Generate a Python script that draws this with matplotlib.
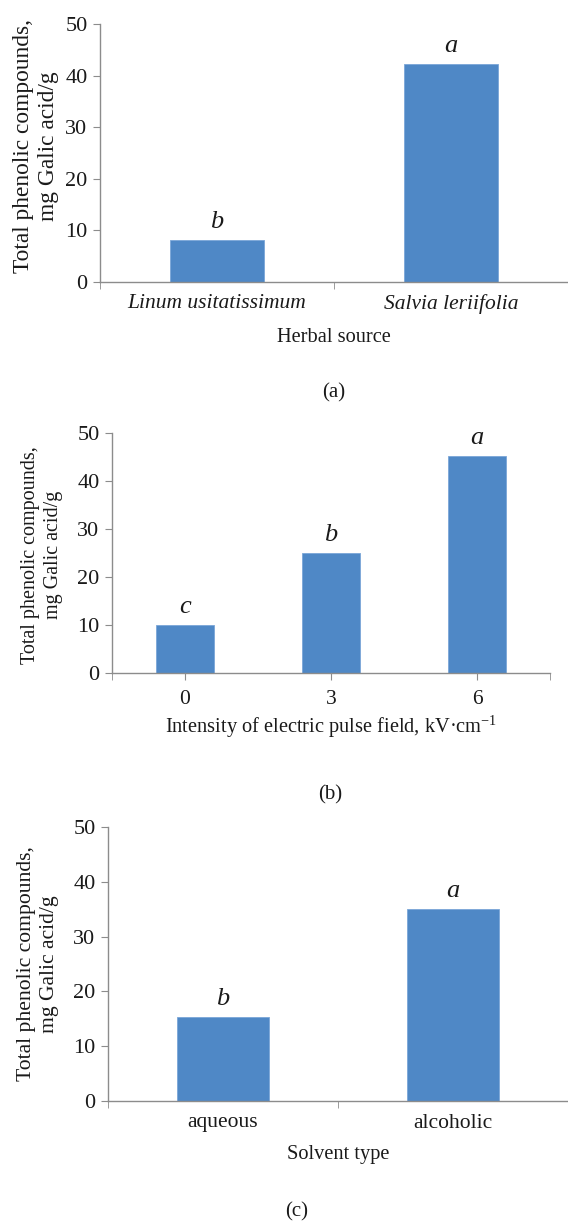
import matplotlib
matplotlib.use("Agg")
import matplotlib.pyplot as plt
from matplotlib.ticker import FixedLocator

plt.rcParams['font.family'] = ['Liberation Serif', 'DejaVu Serif']
plt.rcParams['mathtext.fontset'] = 'custom'
plt.rcParams['mathtext.rm'] = 'Liberation Serif'

# ---- data ----
herbs = ['Linum usitatissimum', 'Salvia leriifolia']
herb_vals = [8.2, 42.2]
herb_letters = ['b', 'a']

fields = ['0', '3', '6']
field_vals = [10.1, 25.1, 45.3]
field_letters = ['c', 'b', 'a']

solvents = ['aqueous', 'alcoholic']
solvent_vals = [15.3, 35.1]
solvent_letters = ['b', 'a']

ylabel = 'Total phenolic compounds,\nmg Galic acid/g'
yticks = [0, 10, 20, 30, 40, 50]

W, H = 568, 1223
BAR = '#4f88c6'
AXC = '#8c8c8c'
TXT = '#1a1a1a'

fig = plt.figure(figsize=(W / 100, H / 100), dpi=100)


def px_axes(left, right, top, bottom):
    # pixel box -> figure fraction
    return fig.add_axes([left / W, 1 - bottom / H, (right - left) / W, (bottom - top) / H])


def panel(box, cats, vals, letters, xlabel, tag, tag_xy, boundary_ticks,
          italic_cats=False, ylab_fs=16, ylab_xy=(35, 150), xlab_y=337):
    left, right, top, bottom = box
    ax = px_axes(left, right, top, bottom)
    x = list(range(len(cats)))
    ax.bar(x, vals, width=0.4, color=BAR, edgecolor='#7aa6d8', linewidth=0.6, zorder=2)
    ax.set_xlim(-0.5, len(cats) - 0.5)
    ax.set_ylim(0, 50)
    ax.set_yticks(yticks)
    ax.tick_params(axis='y', direction='out', length=5, color=AXC, labelsize=16,
                   labelcolor=TXT, pad=4)
    for s in ['top', 'right']:
        ax.spines[s].set_visible(False)
    for s in ['left', 'bottom']:
        ax.spines[s].set_color(AXC)
        ax.spines[s].set_linewidth(1.0)
    ax.set_xticks(x)
    ax.set_xticklabels(cats, fontsize=15.5, color=TXT,
                       style='italic' if italic_cats else 'normal')
    if boundary_ticks:
        ax.xaxis.set_minor_locator(FixedLocator([i - 0.5 for i in range(len(cats) + 1)]))
        ax.tick_params(axis='x', which='major', length=0, pad=9)
    else:
        ax.xaxis.set_minor_locator(FixedLocator([-0.5, len(cats) - 0.5]))
        ax.tick_params(axis='x', which='major', length=5, color=AXC, pad=7)
    ax.tick_params(axis='x', which='minor', length=5, color=AXC)
    for xi, v, l in zip(x, vals, letters):
        ax.annotate(l, (xi, v), xytext=(0, 5), textcoords='offset points',
                    ha='center', va='bottom', fontsize=19, style='italic', color=TXT)
    fig.text(ylab_xy[0] / W, 1 - ylab_xy[1] / H, ylabel, rotation=90, ha='center',
             va='center', multialignment='center', fontsize=ylab_fs, color=TXT,
             linespacing=1.25)
    fig.text(((left + right) / 2) / W, 1 - xlab_y / H, xlabel, ha='center', va='center',
             fontsize=14.7, color=TXT)
    fig.text(tag_xy[0] / W, 1 - tag_xy[1] / H, tag, ha='center', va='center',
             fontsize=15, color=TXT)
    return ax


panel((100, 568, 24, 282), herbs, herb_vals, herb_letters, 'Herbal source', '(a)',
      (334, 393), True, italic_cats=True, ylab_fs=16.8, ylab_xy=(36, 146), xlab_y=338)
panel((112, 550, 433, 673), fields, field_vals, field_letters,
      'Intensity of electric pulse field, kV\u00b7cm$^{\u22121}$', '(b)',
      (330, 795), False, ylab_fs=14.5, ylab_xy=(42, 555), xlab_y=727)
panel((108, 568, 827, 1101), solvents, solvent_vals, solvent_letters, 'Solvent type', '(c)',
      (297, 1212), True, ylab_fs=15.6, ylab_xy=(38, 964), xlab_y=1154)

fig.savefig('out.png', dpi=100)
